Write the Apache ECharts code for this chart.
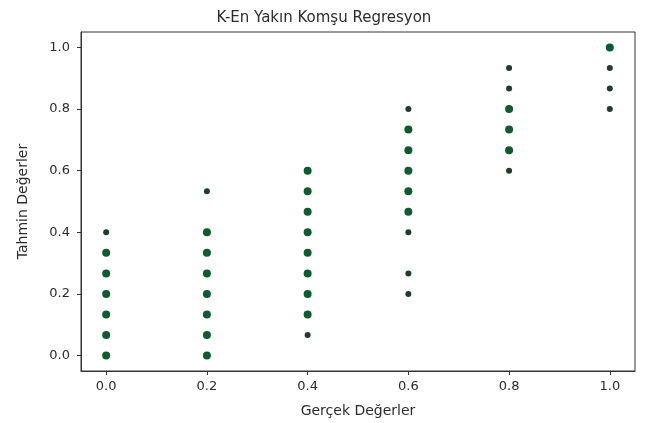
<!DOCTYPE html>
<html>
<head>
<meta charset="utf-8">
<script src="https://cdn.jsdelivr.net/npm/echarts@6/dist/echarts.min.js"></script>
<style>html,body{margin:0;padding:0;background:#fff}#c{width:648px;height:423px}</style>
</head>
<body>
<div id="c"></div>
<script>
// Data (x = actual, y = predicted)
const xTicks = [0, 0.2, 0.4, 0.6, 0.8, 1.0];
const yTicks = [0, 0.2, 0.4, 0.6, 0.8, 1.0];
// Points rendered as larger (overlapping) markers
const densePoints = [
  [0, 0], [0, 0.0667], [0, 0.1333], [0, 0.2], [0, 0.2667], [0, 0.3333],
  [0.2, 0], [0.2, 0.0667], [0.2, 0.1333], [0.2, 0.2], [0.2, 0.2667], [0.2, 0.3333], [0.2, 0.4],
  [0.4, 0.1333], [0.4, 0.2], [0.4, 0.2667], [0.4, 0.3333], [0.4, 0.4], [0.4, 0.4667], [0.4, 0.5333], [0.4, 0.6],
  [0.6, 0.4667], [0.6, 0.5333], [0.6, 0.6], [0.6, 0.6667], [0.6, 0.7333],
  [0.8, 0.6667], [0.8, 0.7333], [0.8, 0.8],
  [1.0, 1.0]
];
// Points rendered as single small markers
const singlePoints = [
  [0, 0.4],
  [0.2, 0.5333],
  [0.4, 0.0667],
  [0.6, 0.2], [0.6, 0.2667], [0.6, 0.4], [0.6, 0.8],
  [0.8, 0.6], [0.8, 0.8667], [0.8, 0.9333],
  [1.0, 0.8], [1.0, 0.8667], [1.0, 0.9333]
];

const chart = echarts.init(document.getElementById('c'));
const txt = '#2b2b2b';
const font = 'DejaVu Sans';
chart.setOption({
  animation: false,
  backgroundColor: '#fff',
  title: {
    text: 'K-En Yakın Komşu Regresyon',
    left: 'center', top: 6,
    textStyle: { fontFamily: font, fontSize: 15, fontWeight: 'normal', color: txt }
  },
  grid: { left: 81, right: 13, top: 32, bottom: 52, show: true, borderColor: '#333', borderWidth: 1 },
  xAxis: {
    type: 'value', min: -0.05, max: 1.05,
    name: 'Gerçek Değerler', nameLocation: 'middle', nameGap: 33,
    nameTextStyle: { fontFamily: font, fontSize: 14, color: txt },
    axisLine: { show: true, onZero: false, lineStyle: { color: '#333' } },
    axisTick: { show: true, length: 4, inside: false, customValues: xTicks, lineStyle: { color: '#333' } },
    axisLabel: { customValues: xTicks, fontFamily: font, fontSize: 13, color: txt, margin: 9,
      formatter: v => v.toFixed(1) },
    splitLine: { show: false }
  },
  yAxis: {
    type: 'value', min: -0.05, max: 1.05,
    name: 'Tahmin Değerler', nameLocation: 'middle', nameGap: 51, nameRotate: 90,
    nameTextStyle: { fontFamily: font, fontSize: 14, color: txt },
    axisLine: { show: true, onZero: false, lineStyle: { color: '#333' } },
    axisTick: { show: true, length: 4, inside: false, customValues: yTicks, lineStyle: { color: '#333' } },
    axisLabel: { customValues: yTicks, fontFamily: font, fontSize: 13, color: txt, margin: 11,
      formatter: v => v.toFixed(1) },
    splitLine: { show: false }
  },
  series: [
    { type: 'scatter', data: densePoints, symbolSize: 8,
      itemStyle: { color: '#0d5c2f', opacity: 1 } },
    { type: 'scatter', data: singlePoints, symbolSize: 6,
      itemStyle: { color: '#1f3d2b', opacity: 1 } }
  ]
});
</script>
</body>
</html>
